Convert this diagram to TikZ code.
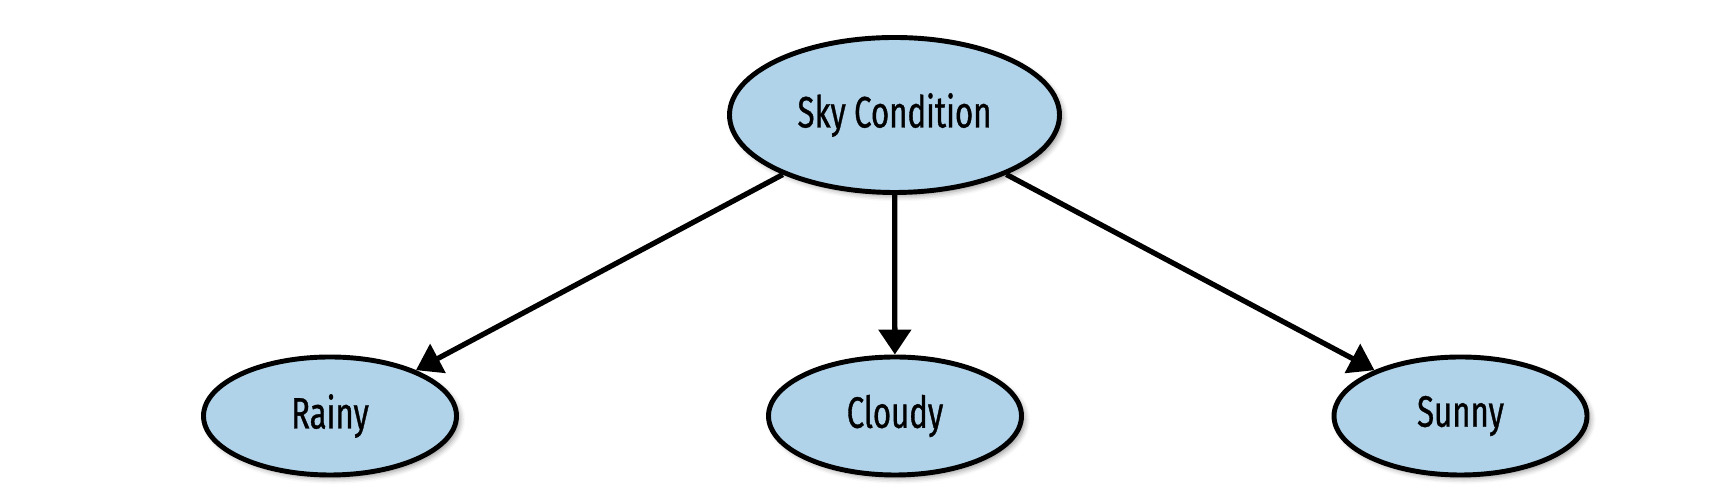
\documentclass[tikz,border=0pt]{standalone}
\usepackage{fontspec}
\setmainfont{Fira Sans}[FakeStretch=0.71,FakeBold=0.8]
\usetikzlibrary{shapes.geometric,arrows.meta,shadows.blur}
\definecolor{skyblue}{HTML}{B0D3EA}
\tikzset{
    state node/.style={
        ellipse,draw,line width=2.8pt,
        fill=skyblue,inner sep=0pt,
        blur shadow={shadow xshift=2pt,shadow yshift=-2pt,shadow blur radius=3pt,shadow opacity=40},
        font=\fontsize{25}{29}\selectfont
    },
    big arrow/.style={-{Triangle[length=.5cm,width=.64cm]},line width=3pt}
}
\begin{document}
\begin{tikzpicture}
    \useasboundingbox (0,0) rectangle (34.52,10);
    \node[state node,minimum width=6.6cm,minimum height=3.1cm] (sky) at (17.89,7.7) {Sky Condition};
    \foreach \x/\name/\txt in {6.6/rainy/Rainy,17.9/cloudy/Cloudy,29.21/sunny/Sunny}
        \node[state node,minimum width=5.06cm,minimum height=2.36cm] (\name) at (\x,1.68) {\txt};
    \foreach \name in {rainy,cloudy,sunny}
        \draw[big arrow] (sky) -- (\name);
\end{tikzpicture}
\end{document}
